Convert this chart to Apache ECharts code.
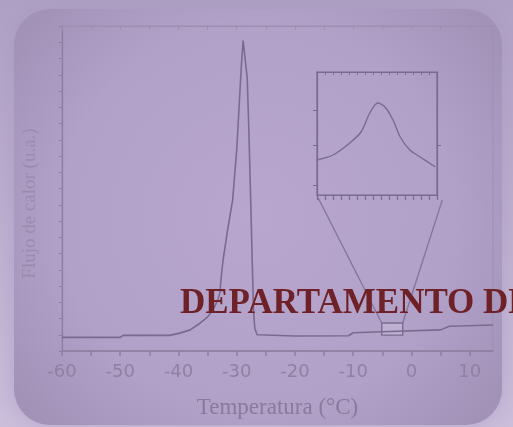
<!DOCTYPE html>
<html>
<head>
  <meta charset="utf-8">
  <script src="https://cdn.jsdelivr.net/npm/echarts@6/dist/echarts.min.js"></script>
  <style>
    html, body { margin: 0; padding: 0; }
    #chart { width: 513px; height: 427px; }
  </style>
</head>
<body>
  <div id="chart"></div>
  <script>
    // main DSC trace
    const temperatura = [-60, -50, -49.5, -41.5, -39.8, -38, -36.5, -35, -34.1, -33.3, -32.9, -32.6, -32.3, -31.5, -30.7, -30, -29.6, -29.2, -28.9, -28.6, -28.2, -27.9, -27.6, -27.3, -27.1, -26.9, -26.5, -20, -10.8, -10, -5, 5, 6.5, 14];
    const flujo = [4.2, 4.2, 4.8, 4.8, 5.5, 6.5, 8.3, 10.5, 12.6, 15.5, 17.8, 24, 28.5, 38, 46.5, 62, 75, 88, 95.5, 95, 84, 67, 46, 25, 12, 7, 5, 4.6, 4.7, 5.6, 5.9, 6.5, 7.6, 8];
    const xLabels = [-60, -50, -40, -30, -20, -10, 0, 10];
    const xTicks = [-60, -55, -50, -45, -40, -35, -30, -25, -20, -15, -10, -5, 0, 5, 10];

    // inset (zoomed region)
    const insetX = [0, 2, 4.1, 5.5, 6.6, 7.6, 8.5, 9.5, 10.4, 11.6, 12.9, 14.8];
    const insetY = [3.5, 4.0, 5.2, 6.3, 8.2, 9.2, 8.8, 7.5, 5.8, 4.5, 3.8, 2.8];
    const insetYTicks = [1, 5, 8.5];

    // zoom box and the two connecting lines
    const zoomBox = [[-5.1, 4.9], [-1.5, 8.6]];
    const zoomLeft = [[-16.1, 47.4], [-5.1, 8.6]];
    const zoomRight = [[5.3, 46.5], [-1.5, 8.6]];

    const lineCol = '#7a6b8e';
    const axisCol = '#8c7da0';

    let mainData = temperatura.map((t, i) => [t, flujo[i]]);
    let insetData = insetX.map((x, i) => [x, insetY[i]]);

    let myChart = echarts.init(document.getElementById('chart'));
    let option = {
      animation: false,
      graphic: [
        {
          type: 'rect', z: -10,
          shape: { x: 0, y: 0, width: 513, height: 427 },
          style: {
            fill: { type: 'linear', x: 0, y: 0, x2: 0, y2: 1,
              colorStops: [{ offset: 0, color: '#ae9fc4' }, { offset: 1, color: '#cbbedb' }] }
          }
        },
        {
          type: 'rect', z: -9,
          shape: { x: 14, y: 9, width: 488, height: 416, r: 36 },
          style: {
            fill: { type: 'radial', x: 0.5, y: 0.5, r: 0.72,
              colorStops: [{ offset: 0, color: '#b8a6ce' }, { offset: 0.65, color: '#b1a0c8' }, { offset: 1, color: '#a292b8' }] },
            shadowBlur: 22, shadowColor: 'rgba(165,150,190,0.6)'
          }
        },
        {
          type: 'text', z: 100,
          style: {
            x: 180, y: 304, text: 'DEPARTAMENTO DE',
            font: 'bold 35px "Liberation Serif"', fill: '#6e2227',
            verticalAlign: 'middle'
          }
        }
      ],
      grid: [
        { left: 62, right: 20, top: 26, bottom: 76, show: true, borderColor: '#9e8fb1', borderWidth: 1 },
        { left: 317, top: 72, width: 120, height: 123, show: true, borderColor: lineCol, borderWidth: 1.2 }
      ],
      xAxis: [
        {
          type: 'value', gridIndex: 0, min: -60, max: 14,
          name: 'Temperatura (°C)', nameLocation: 'middle', nameGap: 45,
          nameTextStyle: { fontFamily: 'Liberation Serif', fontSize: 23, color: '#8a7a9b' },
          axisLine: { onZero: false, lineStyle: { color: axisCol, width: 1.5 } },
          axisTick: { customValues: xTicks, length: 5, lineStyle: { color: axisCol, width: 1.5 } },
          axisLabel: {
            customValues: xLabels, margin: 12, fontFamily: 'DejaVu Sans', fontSize: 18,
            color: v => (v === 10 || v === -60) ? '#b4a5c8' : '#9080a3'
          },
          splitLine: { show: false }
        },
        {
          type: 'value', gridIndex: 0, min: -60, max: 14, position: 'top',
          axisLine: { onZero: false, lineStyle: { color: '#9e8fb1' } },
          axisTick: { customValues: xTicks, inside: true, length: 4, lineStyle: { color: '#9e8fb1' } },
          axisLabel: { show: false }, splitLine: { show: false }
        },
        {
          type: 'value', gridIndex: 1, min: 0, max: 15, interval: 1,
          axisLine: { onZero: false, lineStyle: { color: lineCol, width: 1.2 } },
          axisTick: { length: 5, lineStyle: { color: lineCol, width: 1.2 } },
          axisLabel: { show: false }, splitLine: { show: false }
        },
        {
          type: 'value', gridIndex: 1, min: 0, max: 15, interval: 1, position: 'top',
          axisLine: { onZero: false, lineStyle: { color: lineCol } },
          axisTick: { inside: true, length: 3, lineStyle: { color: lineCol } },
          axisLabel: { show: false }, splitLine: { show: false }
        }
      ],
      yAxis: [
        {
          type: 'value', gridIndex: 0, min: 0, max: 100, interval: 5,
          name: 'Flujo de calor (u.a.)', nameLocation: 'middle', nameGap: 22,
          nameTextStyle: { fontFamily: 'Liberation Serif', fontSize: 19, color: '#9b8bad', padding: [0, 30, 0, 0] },
          axisLine: { show: true, onZero: false, lineStyle: { color: axisCol, width: 1.2 } },
          axisTick: { show: true, length: 3, lineStyle: { color: axisCol } },
          axisLabel: { show: false }, splitLine: { show: false }
        },
        {
          type: 'value', gridIndex: 1, min: 0, max: 12.3,
          axisLine: { show: true, onZero: false, lineStyle: { color: lineCol, width: 1.2 } },
          axisTick: { show: true, customValues: insetYTicks, length: 4, lineStyle: { color: lineCol } },
          axisLabel: { show: false }, splitLine: { show: false }
        },
        {
          type: 'value', gridIndex: 1, min: 0, max: 12.3, position: 'right',
          axisLine: { show: true, onZero: false, lineStyle: { color: lineCol, width: 1.2 } },
          axisTick: { show: true, customValues: [5], length: 4, lineStyle: { color: lineCol } },
          axisLabel: { show: false }, splitLine: { show: false }
        }
      ],
      series: [
        {
          type: 'line', xAxisIndex: 0, yAxisIndex: 0, data: mainData,
          symbol: 'none', lineStyle: { color: lineCol, width: 1.6 },
          markArea: {
            silent: true,
            itemStyle: { color: 'rgba(205,195,220,0.45)', borderColor: lineCol, borderWidth: 1.4 },
            data: [[{ coord: zoomBox[0] }, { coord: zoomBox[1] }]]
          }
        },
        {
          type: 'line', xAxisIndex: 0, yAxisIndex: 0, data: zoomLeft,
          symbol: 'none', lineStyle: { color: '#85769a', width: 1.4 }
        },
        {
          type: 'line', xAxisIndex: 0, yAxisIndex: 0, data: zoomRight,
          symbol: 'none', lineStyle: { color: '#85769a', width: 1.4 }
        },
        {
          type: 'line', xAxisIndex: 2, yAxisIndex: 1, data: insetData, smooth: 0.3,
          symbol: 'none', lineStyle: { color: lineCol, width: 1.4 }
        }
      ]
    };
    myChart.setOption(option);
  </script>
</body>
</html>
